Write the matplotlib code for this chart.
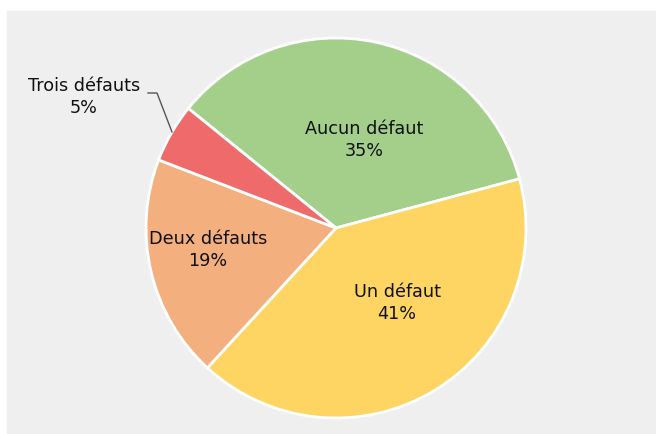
import matplotlib
matplotlib.use('Agg')
import matplotlib.pyplot as plt

# data
labels = ['Aucun défaut', 'Un défaut', 'Deux défauts', 'Trois défauts']
shares = [35, 41, 19, 5]
colors = ['#a3cf8b', '#fed563', '#f4af7f', '#ee6a6b']

fig = plt.figure(figsize=(6.56, 4.34), dpi=100)
fig.patch.set_facecolor('white')
ax = fig.add_axes([0, 0, 1, 1])

# gray panel
ax.add_patch(plt.Rectangle((7, 0), 649, 423, color='#efefef', zorder=0))

cx, cy, r = 336, 206, 190
wedges, _ = ax.pie(shares, colors=colors, startangle=141, counterclock=False,
                   center=(cx, cy), radius=r, frame=True,
                   wedgeprops=dict(edgecolor='white', linewidth=2))
ax.set_xlim(0, 656)
ax.set_ylim(0, 434)
ax.axis('off')

pos = [(364, 294), (397, 131), (208, 184), (84, 337)]
for lab, s, (x, y) in zip(labels, shares, pos):
    ax.text(x, y, '%s\n%d%%' % (lab, s), ha='center', va='center',
            fontsize=12.7, color='#111111', linespacing=1.3)

# leader line for the small slice
ax.plot([148, 157, 172], [341, 341, 302], color='#555555', linewidth=1)

fig.savefig('out.png', dpi=100)
